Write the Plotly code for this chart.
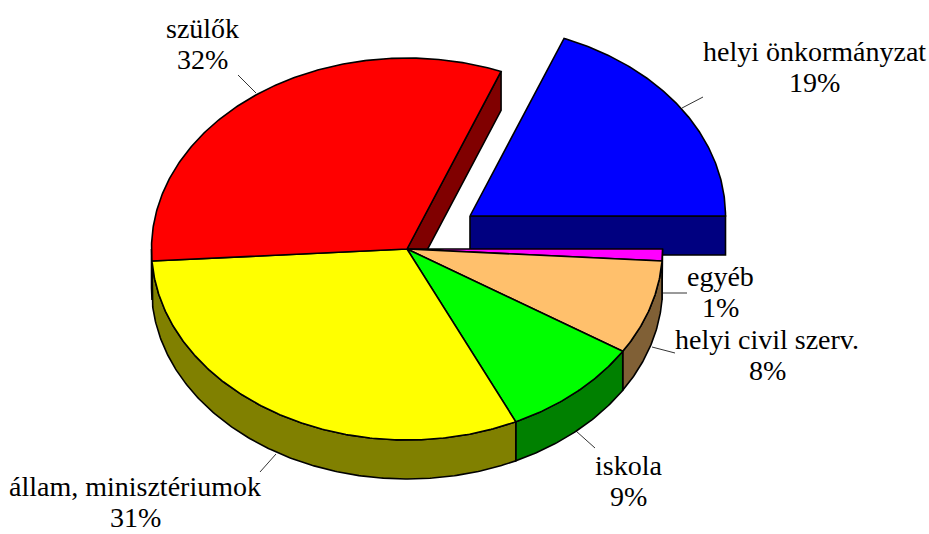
import numpy as np
import plotly.graph_objects as go

categories = ["egyéb", "helyi civil szerv.", "iskola", "állam, minisztériumok", "szülők", "helyi önkormányzat"]
values = [1, 8, 9, 31, 32, 19]
top_colors = ["#FF00FF", "#FFC06C", "#00FF00", "#FFFF00", "#FF0000", "#0000FF"]
side_colors = ["#800080", "#806036", "#008000", "#808000", "#800000", "#000080"]

W, H = 929, 534
CX, CY, RX, RY, DEPTH = 407.0, 249.0, 255.5, 191.0, 39.0
EXPLODE = {"helyi önkormányzat": (63.0, -33.0)}
LINE = dict(color="#000000", width=1.6)
LINE_GAP = 31.5

label_pos = {
    "szülők": (202, 44), "helyi önkormányzat": (814, 67), "egyéb": (720, 292),
    "helyi civil szerv.": (767, 355), "iskola": (628, 481), "állam, minisztériumok": (135, 502),
}
leaders = {
    "szülők": ((238, 75), (256, 93)), "helyi önkormányzat": ((682, 108), (703, 97)),
    "egyéb": ((663, 293), (687, 293)), "helyi civil szerv.": ((652, 347), (675, 353)),
    "iskola": ((576, 431), (595, 448)), "állam, minisztériumok": ((276, 454), (260, 472)),
}


def pt(a, ox, oy, dz=0.0):
    """a: degrees clockwise from east."""
    r = np.radians(a)
    return ox + RX * np.cos(r), oy + RY * np.sin(r) + dz


def arc(a0, a1, ox, oy, dz=0.0):
    t = np.linspace(a0, a1, max(int(abs(a1 - a0) * 2), 2) + 1)
    return pt(t, ox, oy, dz)


fig = go.Figure()


def poly(xs, ys, fill, name):
    fig.add_trace(go.Scatter(x=list(xs), y=list(ys), mode="lines", fill="toself", fillcolor=fill,
                             line=LINE, name=name, hoverinfo="name", showlegend=False))


ends = np.cumsum(values) / np.sum(values) * 360.0
starts = np.concatenate([[0.0], ends[:-1]])
n = len(categories)
slices = [dict(cat=categories[i], a0=starts[i], a1=ends[i], tc=top_colors[i], sc=side_colors[i],
               prev=categories[(i - 1) % n], next=categories[(i + 1) % n]) for i in range(n)]


def origin(s):
    dx, dy = EXPLODE.get(s["cat"], (0.0, 0.0))
    return CX + dx, CY + dy


def draw_faces(s):
    ox, oy = origin(s)
    out = s["cat"] in EXPLODE
    # a radial cut only shows beside a gap, and only when it faces the viewer
    faces = []
    if (out or s["next"] in EXPLODE) and np.cos(np.radians(s["a1"])) > 0:
        faces.append(s["a1"])
    if (out or s["prev"] in EXPLODE) and np.cos(np.radians(s["a0"])) < 0:
        faces.append(s["a0"])
    for a in faces:
        ex, ey = pt(a, ox, oy)
        poly([ox, ex, ex, ox, ox], [oy, ey, ey + DEPTH, oy + DEPTH, oy], s["sc"], s["cat"])


def draw_wall(s):
    ox, oy = origin(s)
    if s["a0"] < 180.0:
        lo, hi = s["a0"], min(s["a1"], 180.0)
        xt, yt = arc(lo, hi, ox, oy)
        xb, yb = arc(hi, lo, ox, oy, DEPTH)
        poly(np.r_[xt, xb, xt[0]], np.r_[yt, yb, yt[0]], s["sc"], s["cat"])


def draw_top(s):
    ox, oy = origin(s)
    xa, ya = arc(s["a0"], s["a1"], ox, oy)
    poly(np.r_[ox, xa, ox], np.r_[oy, ya, oy], s["tc"], s["cat"])


pulled = [s for s in slices if s["cat"] in EXPLODE]
body = [s for s in slices if s["cat"] not in EXPLODE]
for s in pulled:
    draw_faces(s)
    draw_top(s)
for s in body:
    draw_faces(s)
for s in body:
    draw_wall(s)
for s in body:
    draw_top(s)

for cat, v in zip(categories, values):
    (x0, y0), (x1, y1) = leaders[cat]
    fig.add_trace(go.Scatter(x=[x0, x1], y=[y0, y1], mode="lines", line=dict(color="#000000", width=0.8),
                             hoverinfo="skip", showlegend=False))
    lx, ly = label_pos[cat]
    for txt, yy in ((cat, ly - LINE_GAP / 2), (f"{v}%", ly + LINE_GAP / 2)):
        fig.add_annotation(x=lx, y=yy, xref="x", yref="y", text=txt, showarrow=False,
                           xanchor="center", yanchor="middle", align="center",
                           font=dict(family="Liberation Serif", size=28, color="#000000"))

fig.update_layout(width=W, height=H, margin=dict(l=0, r=0, t=0, b=0), autosize=False,
                  paper_bgcolor="#FFFFFF", plot_bgcolor="#FFFFFF", showlegend=False,
                  xaxis=dict(range=[0, W], visible=False, fixedrange=True),
                  yaxis=dict(range=[H, 0], visible=False, fixedrange=True))
fig.write_html("out.html", config=dict(displayModeBar=False),
               post_script="document.body.style.margin='0';document.documentElement.style.overflow='hidden';")
